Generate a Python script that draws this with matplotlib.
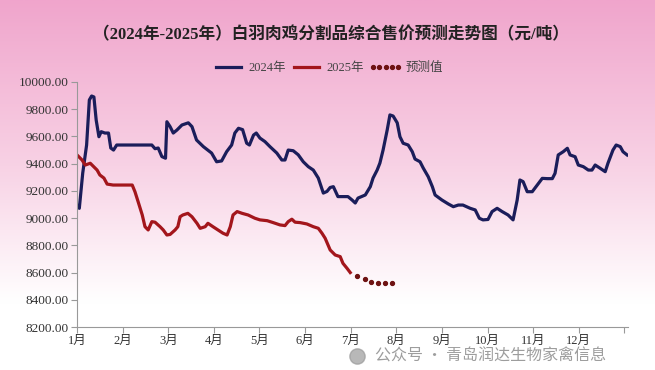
import numpy as np
import matplotlib
matplotlib.use("Agg")
import matplotlib.pyplot as plt
from matplotlib.colors import LinearSegmentedColormap

# ---- data (time in months since Jan 1, value in yuan/ton) ----
t_2024 = [0.0, 0.05, 0.125, 0.21, 0.27, 0.32, 0.37, 0.42, 0.48, 0.53, 0.61, 0.69,
          0.74, 0.80, 0.87, 1.64, 1.71, 1.78, 1.86, 1.94, 1.97, 2.04, 2.11, 2.19,
          2.30, 2.44, 2.52, 2.62, 2.77, 2.95, 3.06, 3.17, 3.28, 3.39, 3.46, 3.54,
          3.63, 3.72, 3.78, 3.87, 3.93, 4.01, 4.12, 4.23, 4.38, 4.49, 4.56, 4.63,
          4.74, 4.85, 4.96, 5.07, 5.18, 5.29, 5.40, 5.48, 5.55, 5.62, 5.72, 5.83,
          5.94, 6.03, 6.10, 6.16, 6.32, 6.43, 6.49, 6.58, 6.64, 6.71, 6.80, 6.86,
          6.93, 7.02, 7.08, 7.15, 7.26, 7.35, 7.41, 7.52, 7.59, 7.70, 7.79, 7.85,
          8.00, 8.14, 8.25, 8.36, 8.46, 8.62, 8.73, 8.82, 8.90, 9.01, 9.10, 9.21,
          9.32, 9.45, 9.56, 9.65, 9.71, 9.78, 9.87, 9.98, 10.09, 10.20, 10.31,
          10.42, 10.48, 10.55, 10.66, 10.75, 10.81, 10.92, 10.99, 11.10, 11.21,
          11.29, 11.36, 11.47, 11.58, 11.64, 11.75, 11.82, 11.91, 11.97, 12.06]
v_2024 = [9096, 9072, 9331, 9537, 9868, 9897, 9890, 9720, 9598, 9635, 9625, 9625,
          9515, 9500, 9537, 9537, 9510, 9515, 9452, 9440, 9708, 9672, 9625, 9647,
          9684, 9700, 9672, 9574, 9525, 9478, 9414, 9420, 9488, 9537, 9625, 9660,
          9650, 9550, 9537, 9610, 9625, 9588, 9562, 9525, 9478, 9427, 9427, 9500,
          9495, 9465, 9414, 9378, 9353, 9294, 9184, 9196, 9225, 9231, 9158, 9158,
          9158, 9133, 9111, 9147, 9170, 9231, 9294, 9353, 9404, 9500, 9647, 9758,
          9750, 9700, 9598, 9550, 9537, 9488, 9434, 9414, 9368, 9304, 9231, 9170,
          9133, 9104, 9084, 9096, 9096, 9072, 9060, 8999, 8987, 8990, 9048, 9072,
          9048, 9023, 8987, 9133, 9280, 9268, 9194, 9194, 9243, 9292, 9290,
          9290, 9329, 9464, 9488, 9513, 9464, 9451, 9390, 9378, 9353,
          9353, 9390, 9366, 9341, 9403, 9500, 9537, 9525, 9488, 9464]

t_2025 = [0.0, 0.11, 0.18, 0.29, 0.35, 0.44, 0.50, 0.59, 0.66, 0.79, 1.21, 1.27,
          1.34, 1.43, 1.49, 1.56, 1.64, 1.71, 1.82, 1.89, 1.97, 2.04, 2.15, 2.21,
          2.26, 2.32, 2.43, 2.52, 2.63, 2.70, 2.81, 2.87, 2.98, 3.09, 3.20, 3.29,
          3.36, 3.42, 3.51, 3.62, 3.75, 3.90, 4.01, 4.17, 4.30, 4.45, 4.56, 4.63,
          4.71, 4.78, 4.89, 5.04, 5.18, 5.29, 5.37, 5.44, 5.55, 5.66, 5.77, 5.83,
          5.92, 5.99]
v_2025 = [9464, 9427, 9390, 9403, 9383, 9353, 9317, 9294, 9250, 9243, 9243, 9194,
          9120, 9023, 8937, 8913, 8974, 8970, 8937, 8913, 8876, 8880, 8913, 8937,
          9010, 9023, 9035, 9010, 8962, 8925, 8937, 8962, 8937, 8913, 8889, 8876,
          8937, 9023, 9048, 9035, 9023, 8999, 8987, 8981, 8967, 8950, 8945, 8974,
          8992, 8970, 8967, 8957, 8937, 8925, 8889, 8852, 8766, 8729, 8717, 8668,
          8631, 8600]

t_forecast = [6.14, 6.32, 6.45, 6.60, 6.75, 6.91]
v_forecast = [8575, 8550, 8533, 8525, 8520, 8520]

month_labels = [f"{m}月" for m in range(1, 13)]
y_ticks = list(range(8200, 10001, 200))

NAVY = "#1b1d5a"
DARK_RED = "#a3161c"
DOT_RED = "#6e1212"
CJK = ["Liberation Serif", "Noto Sans CJK SC", "DejaVu Sans"]

fig = plt.figure(figsize=(6.55, 3.70), dpi=100)

# pink-to-white background gradient
bg = fig.add_axes([0, 0, 1, 1], zorder=-10)
cmap = LinearSegmentedColormap.from_list(
    "bg", [(0.0, "#ffffff"), (0.18, "#ffffff"), (0.55, "#f8d2e5"), (1.0, "#f0a5cc")])
grad = np.linspace(0, 1, 256).reshape(-1, 1)
bg.imshow(grad, aspect="auto", cmap=cmap, origin="lower", extent=[0, 1, 0, 1])
bg.set_xlim(0, 1)
bg.set_ylim(0, 1)
bg.axis("off")

ax = fig.add_axes([0.1176, 0.1162, 0.8412, 0.6622])
ax.patch.set_alpha(0)

ax.plot(t_2024, v_2024, color=NAVY, lw=2.3, label="2024年", solid_joinstyle="round")
ax.plot(t_2025, v_2025, color=DARK_RED, lw=2.3, label="2025年", solid_joinstyle="round")
ax.plot(t_forecast, v_forecast, linestyle="none", marker="o", ms=2.8,
        color=DOT_RED, label="预测值")

ax.set_xlim(0, 12.08)
ax.set_ylim(8200, 10000)
ax.set_yticks(y_ticks)
ax.set_yticklabels([f"{v:.2f}" for v in y_ticks], family="Liberation Serif",
                   fontsize=9.5, color="#333333")
ax.set_xticks(range(13))
ax.set_xticklabels(month_labels + [""], family=CJK, fontsize=9, color="#333333")
ax.tick_params(axis="both", length=4, width=0.8, color="#999999", pad=2)

for side in ("top", "right"):
    ax.spines[side].set_visible(False)
for side in ("left", "bottom"):
    ax.spines[side].set_color("#999999")
    ax.spines[side].set_linewidth(0.8)

fig.text(0.505, 0.905, "（2024年-2025年）白羽肉鸡分割品综合售价预测走势图（元/吨）",
         ha="center", va="center", fontsize=12, fontweight="bold",
         family=CJK, color="#222222")

leg = ax.legend(loc="center", bbox_to_anchor=(0.5, 0.816), bbox_transform=fig.transFigure,
                ncol=3, frameon=False, numpoints=5, handlelength=2.6,
                handletextpad=0.3, columnspacing=0.4,
                prop={"family": CJK, "size": 9})
for txt in leg.get_texts():
    txt.set_color("#444444")

# watermark (icon + account name), kept just below the month labels
bg.plot([0.545], [0.038], marker="o", ms=11, color="#9a9a9a", alpha=0.7)
fig.text(0.572, 0.038, "公众号 · 青岛润达生物家禽信息", ha="left", va="center",
         fontsize=11.5, family=["Noto Sans CJK SC", "DejaVu Sans"],
         color="#8c8c8c", alpha=0.85)

plt.savefig("out.png", dpi=100)
